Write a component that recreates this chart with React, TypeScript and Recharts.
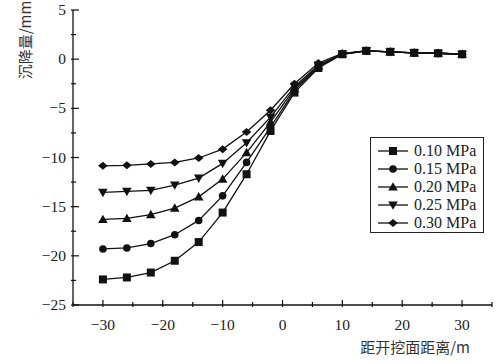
import { LineChart, Line, XAxis, YAxis, Legend } from "recharts";

const distance = [-30, -26, -22, -18, -14, -10, -6, -2, 2, 6, 10, 14, 18, 22, 26, 30];
const p010 = [-22.4, -22.2, -21.7, -20.5, -18.6, -15.6, -11.7, -7.3, -3.4, -0.9, 0.5, 0.85, 0.75, 0.65, 0.6, 0.5];
const p015 = [-19.3, -19.2, -18.75, -17.85, -16.4, -13.9, -10.5, -6.9, -3.2, -0.8, 0.5, 0.85, 0.75, 0.65, 0.6, 0.5];
const p020 = [-16.3, -16.2, -15.8, -15.15, -14.0, -12.2, -9.5, -6.4, -3.0, -0.7, 0.55, 0.85, 0.75, 0.65, 0.6, 0.5];
const p025 = [-13.55, -13.45, -13.35, -12.8, -12.1, -10.6, -8.5, -5.9, -2.8, -0.6, 0.55, 0.85, 0.75, 0.65, 0.6, 0.5];
const p030 = [-10.85, -10.8, -10.65, -10.5, -10.05, -9.15, -7.4, -5.2, -2.5, -0.4, 0.6, 0.85, 0.75, 0.65, 0.6, 0.5];

const xTicks = [-35, -30, -25, -20, -15, -10, -5, 0, 5, 10, 15, 20, 25, 30, 35];
const yTicks = [-25, -22.5, -20, -17.5, -15, -12.5, -10, -7.5, -5, -2.5, 0, 2.5, 5];

const series = [
  { key: "p010", name: "0.10 MPa", shape: "square" },
  { key: "p015", name: "0.15 MPa", shape: "circle" },
  { key: "p020", name: "0.20 MPa", shape: "triangle" },
  { key: "p025", name: "0.25 MPa", shape: "down" },
  { key: "p030", name: "0.30 MPa", shape: "diamond" },
];

const chartData = distance.map((d, i) => ({
  d,
  p010: p010[i],
  p015: p015[i],
  p020: p020[i],
  p025: p025[i],
  p030: p030[i],
}));

const serif = "'Liberation Serif', 'DejaVu Serif', serif";
const cjk = "'Noto Sans CJK SC', sans-serif";
const minus = (v: number) => (v < 0 ? "\u2212" + Math.abs(v) : String(v));

const Marker = ({ cx, cy, shape }: { cx: number; cy: number; shape: string }) => {
  if (shape === "square") return <rect x={cx - 4} y={cy - 4} width={8} height={8} fill="#111" />;
  if (shape === "circle") return <circle cx={cx} cy={cy} r={3.8} fill="#111" />;
  if (shape === "triangle")
    return <polygon points={`${cx},${cy - 4.8} ${cx + 4.8},${cy + 3.6} ${cx - 4.8},${cy + 3.6}`} fill="#111" />;
  if (shape === "down")
    return <polygon points={`${cx},${cy + 4.8} ${cx + 4.8},${cy - 3.6} ${cx - 4.8},${cy - 3.6}`} fill="#111" />;
  return <polygon points={`${cx},${cy - 4} ${cx + 4.8},${cy} ${cx},${cy + 4} ${cx - 4.8},${cy}`} fill="#111" />;
};

const XTick = (props: any) => {
  const { x, y, payload } = props;
  const v = payload.value;
  const major = v % 10 === 0;
  return (
    <g>
      <line x1={x} y1={y} x2={x} y2={y - (major ? 7 : 5)} stroke="#111" strokeWidth={1.2} />
      {major && Math.abs(v) <= 30 && (
        <text x={x} y={y + 23} textAnchor="middle" fontFamily={serif} fontSize={15.5} fill="#222">
          {minus(v)}
        </text>
      )}
    </g>
  );
};

const YTick = (props: any) => {
  const { x, y, payload } = props;
  const v = payload.value;
  const major = v % 5 === 0;
  return (
    <g>
      <line x1={x} y1={y} x2={x + (major ? 8 : 5)} y2={y} stroke="#111" strokeWidth={1.2} />
      {major && (
        <text x={x - 5} y={y + 5} textAnchor="end" fontFamily={serif} fontSize={15.5} fill="#222">
          {minus(v)}
        </text>
      )}
    </g>
  );
};

const LegendBox = () => (
  <div
    style={{
      border: "1.5px solid #222",
      width: 114,
      height: 96,
      boxSizing: "border-box",
      padding: "4px 0 0 6px",
      background: "#fff",
    }}
  >
    {series.map((s) => (
      <div key={s.key} style={{ display: "flex", alignItems: "center", height: 18 }}>
        <svg width={32} height={12} style={{ marginRight: 5 }}>
          <line x1={1} y1={6} x2={31} y2={6} stroke="#111" strokeWidth={1.3} />
          <Marker cx={16} cy={6} shape={s.shape} />
        </svg>
        <span style={{ fontFamily: serif, fontSize: 16, color: "#222", lineHeight: "18px" }}>{s.name}</span>
      </div>
    ))}
  </div>
);

export default function App() {
  return (
    <div style={{ position: "absolute", left: 0, top: 0, background: "#fff" }}>
      <LineChart width={501} height={364} data={chartData} margin={{ top: 10, right: 9, bottom: 29, left: 0 }}>
        <XAxis
          dataKey="d"
          type="number"
          domain={[-35, 35]}
          ticks={xTicks}
          interval={0}
          tickSize={0}
          tickLine={false}
          tick={<XTick />}
          height={30}
          axisLine={{ stroke: "#111", strokeWidth: 1.3 }}
          label={() => (
            <text x={470} y={353} textAnchor="end" fontFamily={cjk} fontSize={15} fill="#333">
              距开挖面距离/m
            </text>
          )}
        />
        <YAxis
          type="number"
          domain={[-25, 5]}
          ticks={yTicks}
          interval={0}
          tickSize={0}
          tickLine={false}
          tick={<YTick />}
          width={73}
          axisLine={{ stroke: "#111", strokeWidth: 1.3 }}
          label={() => (
            <text
              x={24}
              y={40}
              textAnchor="middle"
              dominantBaseline="central"
              transform="rotate(-90 24 40)"
              fontFamily={cjk}
              fontSize={15}
              fill="#333"
            >
              沉降量/mm
            </text>
          )}
        />
        <Legend
          layout="horizontal"
          verticalAlign="middle"
          align="center"
          content={() => <LegendBox />}
          wrapperStyle={{ left: 370, top: 137, width: 114, height: 96 }}
        />
        {series.map((s) => (
          <Line
            key={s.key}
            dataKey={s.key}
            name={s.name}
            stroke="#111"
            strokeWidth={1.3}
            isAnimationActive={false}
            dot={(p: any) => <Marker key={`${s.key}-${p.index}`} cx={p.cx} cy={p.cy} shape={s.shape} />}
            activeDot={false}
          />
        ))}
      </LineChart>
    </div>
  );
}
